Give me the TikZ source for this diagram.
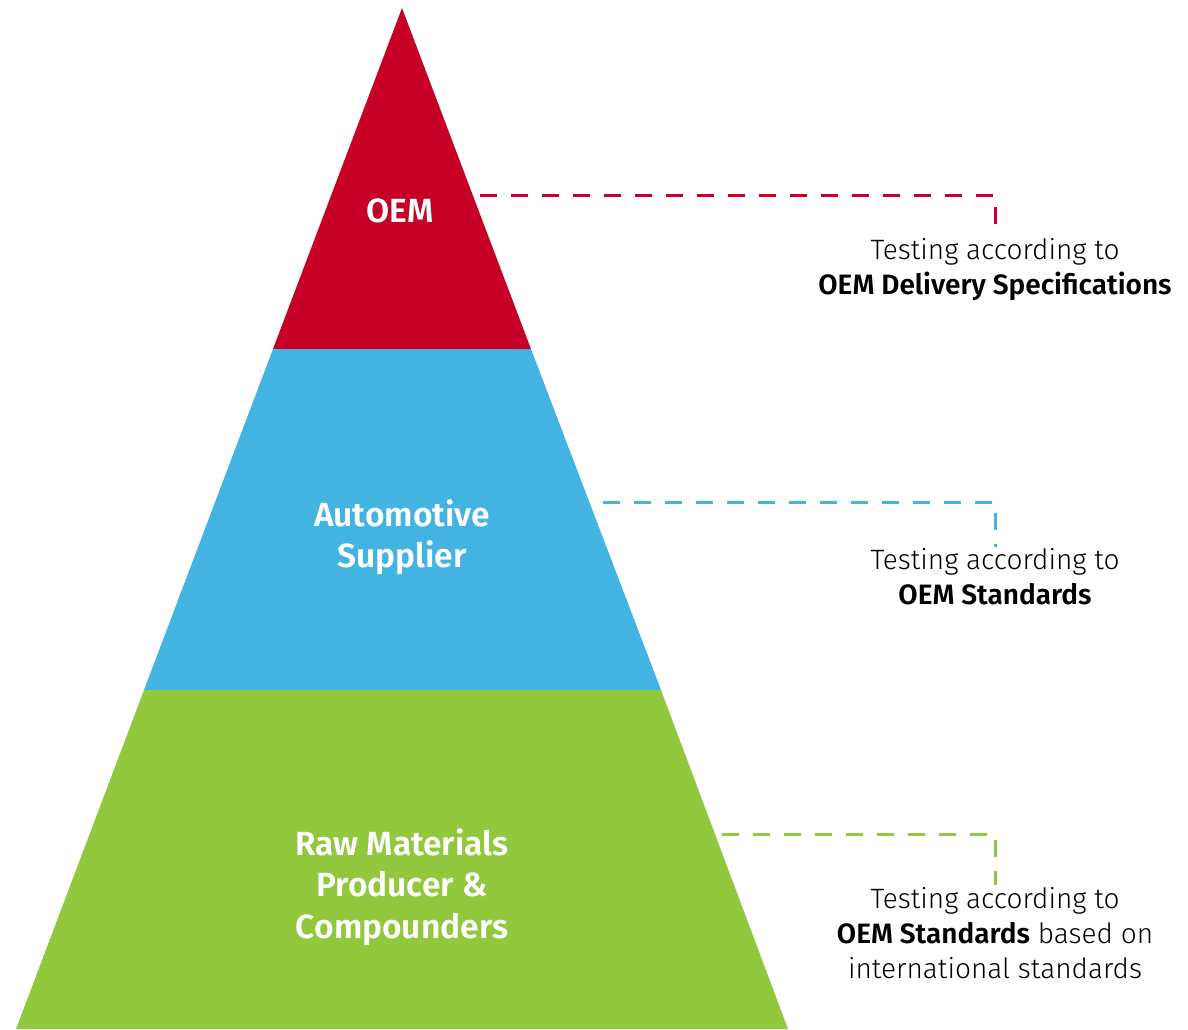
\documentclass[tikz,border=0pt]{standalone}
\usepackage{fontspec}
\setmainfont{Fira Sans}[UprightFont=* Light, BoldFont=* SemiBold]
\usetikzlibrary{positioning}

\definecolor{oemred}{HTML}{C70025}
\definecolor{supblue}{HTML}{43B4E2}
\definecolor{rawgreen}{HTML}{92C83E}

\tikzset{
  tier/.style={text=white, font=\bfseries\fontsize{33.5}{41.5}\selectfont, align=center},
  note/.style={text=black, font=\fontsize{28}{35}\selectfont, align=center, inner sep=1pt},
  link/.style={line width=3pt, dash pattern=on 17pt off 14pt}
}

\begin{document}
\begin{tikzpicture}[x=1pt,y=-1pt]
\useasboundingbox (0,0) rectangle (1188,1029);
% pyramid tiers
\fill[oemred] (402,8) -- (531,349) -- (273,349) -- cycle;
\fill[supblue] (273,349) -- (531,349) -- (661,690) -- (144,690) -- cycle;
\fill[rawgreen] (144,690) -- (661,690) -- (788,1029) -- (16,1029) -- cycle;
% tier labels
\node[tier] (oem) at (400,211) {OEM};
\node[tier] (sup) at (402,537) {Automotive\\Supplier};
\node[tier] (raw) at (402,887) {Raw Materials\\Producer \&\\Compounders};
% notes
\node[note] (oemnote) at (995,270) {Testing according to\\\textbf{OEM Delivery Specifications}};
\node[note] (supnote) at (995,577) {Testing according to\\\textbf{OEM Standards}};
\node[note] (rawnote) at (995,933) {Testing according to\\\textbf{OEM Standards} based on\\international standards};
\coordinate (oemstart) at (480,195);
\coordinate (supstart) at (603,502);
\coordinate (rawstart) at (722,834);
\coordinate[above=1pt of oemnote.north] (oemend);
\coordinate[above=1pt of supnote.north] (supend);
\coordinate[above=1pt of rawnote.north] (rawend);
% connectors
\draw[link, oemred] (oemstart) -| (oemend);
\draw[link, supblue] (supstart) -| (supend);
\draw[link, rawgreen] (rawstart) -| (rawend);
\end{tikzpicture}
\end{document}
